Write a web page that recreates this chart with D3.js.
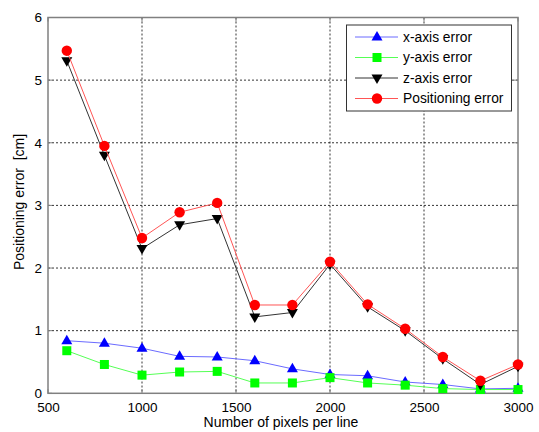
<!DOCTYPE html>
<html><head><meta charset="utf-8">
<script src="https://cdn.jsdelivr.net/npm/d3@7"></script>
<style>
body{margin:0;background:#fff;}
text{font-family:"Liberation Sans",Arial,sans-serif;white-space:pre;}
</style></head>
<body><svg id="c" width="539" height="432"></svg>
<script>
const pixels = [600,800,1000,1200,1400,1600,1800,2000,2200,2400,2600,2800,3000];
const xErr = [0.84,0.80,0.72,0.59,0.58,0.52,0.39,0.30,0.28,0.18,0.14,0.07,0.08];
const yErr = [0.68,0.46,0.29,0.34,0.35,0.165,0.165,0.25,0.165,0.13,0.075,0.06,0.06];
const zErr = [5.31,3.80,2.31,2.69,2.79,1.22,1.29,2.06,1.38,1.00,0.55,0.14,0.43];
const posErr = [5.47,3.95,2.48,2.89,3.04,1.41,1.41,2.10,1.42,1.03,0.58,0.20,0.46];
const xTicks = [500,1000,1500,2000,2500,3000];
const yTicks = [0,1,2,3,4,5,6];
const seriesNames = ["x-axis error","y-axis error","z-axis error","Positioning error"];
const seriesColors = ["#0000ff","#00ff00","#000000","#ff0000"];
const lineColors = ["#6b6bff","#55ff55","#333333","#ff5555"];
const seriesMarkers = ["triUp","square","triDown","circle"];
const seriesData = [xErr,yErr,zErr,posErr];

const svg = d3.select("#c");
const L=48,R=518,T=17.5,B=393.3;
const x = d3.scaleLinear().domain([500,3000]).range([L,R]);
const y = d3.scaleLinear().domain([0,6]).range([B,T]);

// grid
const g = svg.append("g");
g.selectAll(".gx").data(xTicks.slice(1,-1)).enter().append("line")
 .attr("x1",d=>x(d)).attr("x2",d=>x(d)).attr("y1",T).attr("y2",B)
 .attr("stroke","#000").attr("stroke-width",0.8).attr("stroke-dasharray","2,2");
g.selectAll(".gy").data(yTicks.slice(1,-1)).enter().append("line")
 .attr("y1",d=>y(d)).attr("y2",d=>y(d)).attr("x1",L).attr("x2",R)
 .attr("stroke","#000").attr("stroke-width",0.8).attr("stroke-dasharray","2,2");

// axes
const xa = svg.append("g").attr("transform",`translate(0,${B})`)
 .call(d3.axisBottom(x).tickValues(xTicks).tickSize(0).tickPadding(9).tickFormat(d3.format("d")));
xa.select(".domain").remove();
xa.selectAll("text").attr("font-size",13.5).attr("fill","#000").attr("font-family","Liberation Sans, Arial, sans-serif");
const ya = svg.append("g").attr("transform",`translate(${L},0)`)
 .call(d3.axisLeft(y).tickValues(yTicks).tickSize(0).tickPadding(6).tickFormat(d3.format("d")));
ya.select(".domain").remove();
ya.selectAll("text").attr("font-size",13.5).attr("fill","#000").attr("font-family","Liberation Sans, Arial, sans-serif");

// frame
svg.append("rect").attr("x",L).attr("y",T).attr("width",R-L).attr("height",B-T)
 .attr("fill","none").attr("stroke","#808080").attr("stroke-width",1.5);
xTicks.forEach(t=>{
  svg.append("line").attr("x1",x(t)).attr("x2",x(t)).attr("y1",B).attr("y2",B-4).attr("stroke","#808080");
  svg.append("line").attr("x1",x(t)).attr("x2",x(t)).attr("y1",T).attr("y2",T+4).attr("stroke","#808080");
});
yTicks.forEach(t=>{
  svg.append("line").attr("y1",y(t)).attr("y2",y(t)).attr("x1",L).attr("x2",L+4).attr("stroke","#808080");
  svg.append("line").attr("y1",y(t)).attr("y2",y(t)).attr("x1",R).attr("x2",R-4).attr("stroke","#808080");
});

function marker(sel,type,color,cx,cy){
  if(type==="circle") sel.append("circle").attr("cx",cx).attr("cy",cy).attr("r",5.2).attr("fill",color);
  else if(type==="square") sel.append("rect").attr("x",cx-4.5).attr("y",cy-4.5).attr("width",9).attr("height",9).attr("fill",color);
  else if(type==="triUp") sel.append("path").attr("d",`M${cx},${cy-6}L${cx+5.5},${cy+3.5}L${cx-5.5},${cy+3.5}Z`).attr("fill",color);
  else sel.append("path").attr("d",`M${cx},${cy+6}L${cx+5.5},${cy-3.5}L${cx-5.5},${cy-3.5}Z`).attr("fill",color);
}

const line = d3.line().x((d,i)=>x(pixels[i])).y(d=>y(d));
seriesData.forEach((arr,k)=>{
  const sg = svg.append("g");
  sg.append("path").attr("d",line(arr)).attr("fill","none").attr("stroke",lineColors[k]).attr("stroke-width",1);
  arr.forEach((v,i)=>marker(sg,seriesMarkers[k],seriesColors[k],x(pixels[i]),y(v)));
});

// legend
const lg = svg.append("g");
lg.append("rect").attr("x",346.5).attr("y",25).attr("width",165).attr("height",86)
 .attr("fill","#fff").attr("stroke","#333").attr("stroke-width",1);
seriesNames.forEach((n,k)=>{
  const ly = 37 + k*20.5;
  lg.append("line").attr("x1",355).attr("x2",398).attr("y1",ly).attr("y2",ly).attr("stroke",lineColors[k]).attr("stroke-width",1);
  marker(lg,seriesMarkers[k],seriesColors[k],377,ly);
  lg.append("text").attr("x",403).attr("y",ly+4.8).attr("font-size",13.8).text(n);
});

// labels
svg.append("text").attr("x",281).attr("y",427).attr("text-anchor","middle").attr("font-size",14).text("Number of pixels per line");
svg.append("text").attr("transform","translate(24,202) rotate(-90)").attr("text-anchor","middle").attr("font-size",14).text("Positioning error  [cm]");
</script></body></html>
